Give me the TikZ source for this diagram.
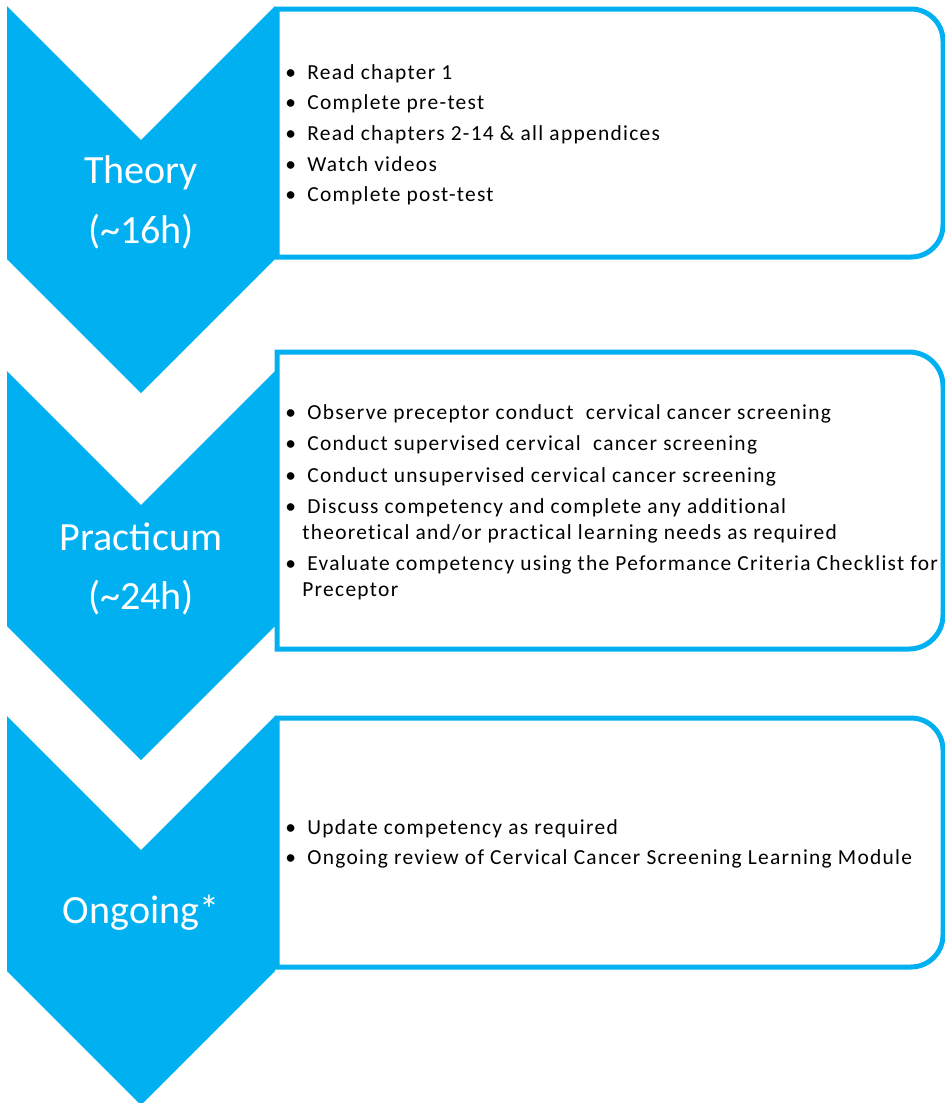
\documentclass[tikz,border=0pt]{standalone}
\usepackage{fontspec}
\setmainfont{Carlito}
\newfontfamily\listfont[LetterSpace=6, Ligatures=NoCommon]{Carlito}
\usetikzlibrary{calc}

\definecolor{stepblue}{HTML}{00B0F0}
% one pixel of the layout
\newlength{\pxu}\setlength{\pxu}{0.02cm}
\newcommand{\bul}{\makebox[22\pxu][l]{\textbullet}}
\newcommand{\hang}{\hspace*{17\pxu}}

\tikzset{
    chevron/.style={fill=stepblue, draw=none},
    stepbox/.style={draw=stepblue, line width=5\pxu, fill=white},
    steplabel/.style={text=white, align=center, inner sep=0pt,
        font=\fontsize{22.8}{34}\selectfont},
    steplist/.style={anchor=base west, inner sep=0pt,
        font=\listfont\fontsize{12.2}{14.5}\selectfont},
}

\begin{document}
\begin{tikzpicture}[x=0.02cm, y=-0.02cm]
    \useasboundingbox (0,0) rectangle (945,1103);

    % Boxes (square on the left, round on the right)
    \draw[stepbox] (277,9) -- (911,9) arc(270:360:32) -- (943,225) arc(0:90:32) -- (277,257) -- cycle;
    \draw[stepbox] (277,352) -- (909,352) arc(270:360:34) -- (943,615) arc(0:90:34) -- (277,649) -- cycle;
    \draw[stepbox] (277,718) -- (911,718) arc(270:360:32) -- (943,935) arc(0:90:32) -- (277,967) -- cycle;

    % Chevrons
    \fill[chevron] (7,6) -- (141,140) -- (275,6) -- (275,259) -- (141,393) -- (7,259) -- cycle;
    \fill[chevron] (7,371) -- (141,505) -- (275,371) -- (275,626) -- (141,760) -- (7,626) -- cycle;
    \fill[chevron] (7,716) -- (141,850) -- (275,716) -- (275,971) -- (141,1105) -- (7,971) -- cycle;

    % Labels on the chevrons
    \node[steplabel] (theory) at (141,202) {Theory\\(\textasciitilde16h)};
    \node[steplabel] (practicum) at (141,569) {Practicum\\(\textasciitilde24h)};
    \node[steplabel, anchor=base] (ongoing) at (141,923) {Ongoing*};

    % Lists in the boxes
    \node[steplist] (list1) at (285,79) {\parbox[t]{640\pxu}{\setlength{\parskip}{3pt}%
        \bul Read chapter 1\par
        \bul Complete pre-test\par
        \bul Read chapters 2-14 \& all appendices\par
        \bul Watch videos\par
        \bul Complete post-test}};
    \node[steplist] (list2) at (285,419) {\parbox[t]{700\pxu}{\setlength{\parskip}{3.5pt}%
        \bul Observe preceptor conduct\ \ cervical cancer screening\par
        \bul Conduct supervised cervical\ \ cancer screening\par
        \bul Conduct unsupervised cervical cancer screening\par
        \bul Discuss competency and complete any additional\\
        \hang theoretical and/or practical learning needs as required\par
        \bul Evaluate competency using the Peformance Criteria Checklist for\\
        \hang Preceptor}};
    \node[steplist] (list3) at (285,834) {\parbox[t]{660\pxu}{\setlength{\parskip}{3pt}%
        \bul Update competency as required\par
        \bul Ongoing review of Cervical Cancer Screening Learning Module}};
\end{tikzpicture}
\end{document}
